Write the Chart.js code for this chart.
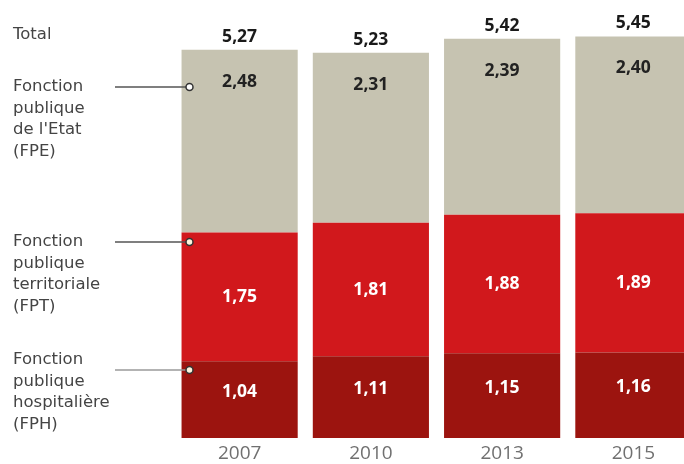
<!DOCTYPE html>
<html>
<head>
<meta charset="utf-8">
<script src="https://cdn.jsdelivr.net/npm/chart.js@4"></script>
<style>
  html, body { margin: 0; padding: 0; background: #fff; overflow: hidden; }
  .graphContainer { width: 700px; height: 464px; }
</style>
</head>
<body>
<div class="graphContainer">
  <canvas id="myChart" width="700" height="464"></canvas>
</div>
<script>
// data (millions d'agents)
const years = ['2007', '2010', '2013', '2015'];
const fph = [1.04, 1.11, 1.15, 1.16];
const fpt = [1.75, 1.81, 1.88, 1.89];
const fpe = [2.48, 2.31, 2.39, 2.40];
const totals = [5.27, 5.23, 5.42, 5.45];

const FONT = '"Open Sans", sans-serif';
const SIDE_FONT = '"DejaVu Sans", sans-serif';
const fmt = (v) => v.toFixed(2).replace('.', ',');

// side captions on the left
const sideLabels = [
  { lines: ['Total'], y: 35 },
  { lines: ['Fonction', 'publique', "de l'Etat", '(FPE)'], y: 87, lineY: 87, open: true },
  { lines: ['Fonction', 'publique', 'territoriale', '(FPT)'], y: 242, lineY: 242 },
  { lines: ['Fonction', 'publique', 'hospitalière', '(FPH)'], y: 360, lineY: 370, light: true },
];

const labelsPlugin = {
  id: 'valueLabels',
  afterDatasetsDraw(chart) {
    const { ctx } = chart;
    ctx.save();
    ctx.textAlign = 'center';
    ctx.textBaseline = 'middle';
    ctx.font = 'bold 17.5px ' + FONT;

    chart.data.datasets.forEach((ds, di) => {
      const meta = chart.getDatasetMeta(di);
      meta.data.forEach((bar, i) => {
        const v = ds.data[i];
        let y;
        if (ds.key === 'fpe') {
          y = bar.y + 32;
          ctx.fillStyle = '#222';
        } else if (ds.key === 'fpt') {
          y = (bar.y + bar.base) / 2;
          ctx.fillStyle = '#fff';
        } else {
          y = (bar.y + bar.base) / 2 - 8;
          ctx.fillStyle = '#fff';
        }
        ctx.fillText(fmt(v), bar.x, y);
        if (ds.key === 'fpe') {
          ctx.fillStyle = '#1a1a1a';
          ctx.fillText(fmt(totals[i]), bar.x, bar.y - 13);
        }
      });
    });

    // left captions and connectors
    ctx.textAlign = 'left';
    ctx.font = '16.5px ' + SIDE_FONT;
    sideLabels.forEach((s) => {
      ctx.fillStyle = '#444';
      s.lines.forEach((t, k) => ctx.fillText(t, 13, s.y + k * 21.5));
      if (s.lineY) {
        ctx.strokeStyle = s.light ? '#9a9a9a' : '#555';
        ctx.lineWidth = 1.5;
        ctx.beginPath();
        ctx.moveTo(115, s.lineY);
        ctx.lineTo(186, s.lineY);
        ctx.stroke();
        ctx.beginPath();
        ctx.arc(189.5, s.lineY, 3.5, 0, Math.PI * 2);
        ctx.fillStyle = s.open ? '#fff' : '#fff4dc';
        ctx.fill();
        ctx.strokeStyle = '#333';
        ctx.stroke();
      }
    });
    ctx.restore();
  },
};

const chart = new Chart(document.getElementById('myChart').getContext('2d'), {
  type: 'bar',
  data: {
    labels: years,
    datasets: [
      { key: 'fph', label: 'FPH', data: fph, backgroundColor: '#9c140f' },
      { key: 'fpt', label: 'FPT', data: fpt, backgroundColor: '#d1181c' },
      { key: 'fpe', label: 'FPE', data: fpe, backgroundColor: '#c6c3b1' },
    ],
  },
  options: {
    animation: false,
    responsive: false,
    events: [],
    layout: { padding: { left: 174, right: 1, top: 4, bottom: 0 } },
    plugins: { legend: { display: false }, tooltip: { enabled: false } },
    datasets: { bar: { barPercentage: 0.885, categoryPercentage: 1, borderWidth: 0 } },
    scales: {
      x: {
        stacked: true,
        grid: { display: false, drawTicks: false },
        border: { display: false },
        ticks: { color: '#707070', font: { family: FONT, size: 19 }, padding: 4 },
        afterFit: (scale) => { scale.height = 26; },
      },
      y: {
        stacked: true,
        display: false,
        min: 0,
        max: 5.89,
      },
    },
  },
  plugins: [labelsPlugin],
});
</script>
</body>
</html>
